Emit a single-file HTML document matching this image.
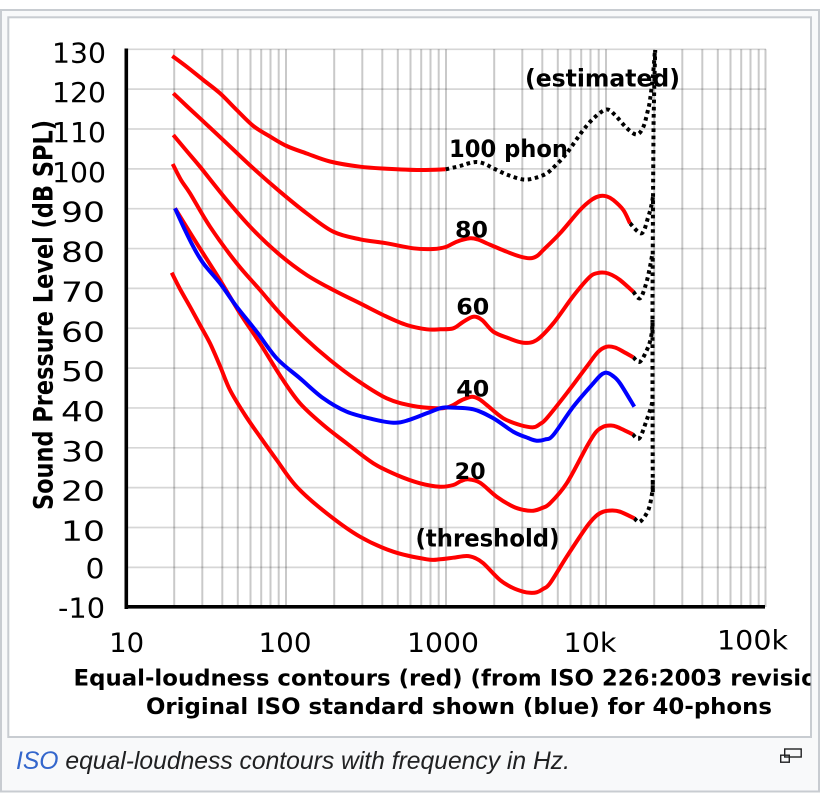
<!DOCTYPE html>
<html>
<head>
<meta charset="utf-8">
<style>
  html,body{margin:0;padding:0;background:#fff;}
  body{width:830px;height:802px;overflow:hidden;position:relative;}
  svg{position:absolute;left:0;top:0;}
  .tk{font-family:"DejaVu Sans","Liberation Sans",sans-serif;fill:#000;}
  .bd{font-family:"DejaVu Sans","Liberation Sans",sans-serif;font-weight:bold;fill:#000;}
</style>
</head>
<body>
<svg id="chart" width="830" height="802" viewBox="0 0 830 802" xmlns="http://www.w3.org/2000/svg">
  <defs>
    <clipPath id="inner"><rect x="9" y="18" width="801.5" height="718"/></clipPath>
  </defs>

  <!-- frame -->
  <rect x="1" y="10" width="818" height="781.5" fill="#f8f9fa" stroke="#c8ccd1" stroke-width="2"/>
  <rect x="8.3" y="17.3" width="802.7" height="719.7" fill="#ffffff" stroke="#c8ccd1" stroke-width="2"/>

  <!-- horizontal gridlines -->
  <g stroke="#000" stroke-opacity="0.16" stroke-width="1.7">
    <line x1="126" y1="49.3" x2="766" y2="49.3"/>
    <line x1="126" y1="89.15" x2="766" y2="89.15"/>
    <line x1="126" y1="129" x2="766" y2="129"/>
    <line x1="126" y1="168.85" x2="766" y2="168.85"/>
    <line x1="126" y1="208.7" x2="766" y2="208.7"/>
    <line x1="126" y1="248.55" x2="766" y2="248.55"/>
    <line x1="126" y1="288.4" x2="766" y2="288.4"/>
    <line x1="126" y1="328.25" x2="766" y2="328.25"/>
    <line x1="126" y1="368.1" x2="766" y2="368.1"/>
    <line x1="126" y1="407.95" x2="766" y2="407.95"/>
    <line x1="126" y1="447.8" x2="766" y2="447.8"/>
    <line x1="126" y1="487.65" x2="766" y2="487.65"/>
    <line x1="126" y1="527.5" x2="766" y2="527.5"/>
    <line x1="126" y1="567.35" x2="766" y2="567.35"/>
  </g>
  <!-- vertical gridlines -->
  <g stroke="#000" stroke-opacity="0.21" stroke-width="2">
    <line x1="174.2" y1="49.3" x2="174.2" y2="607"/>
    <line x1="202.3" y1="49.3" x2="202.3" y2="607"/>
    <line x1="222.3" y1="49.3" x2="222.3" y2="607"/>
    <line x1="237.8" y1="49.3" x2="237.8" y2="607"/>
    <line x1="250.5" y1="49.3" x2="250.5" y2="607"/>
    <line x1="261.2" y1="49.3" x2="261.2" y2="607"/>
    <line x1="270.5" y1="49.3" x2="270.5" y2="607"/>
    <line x1="278.7" y1="49.3" x2="278.7" y2="607"/>
    <line x1="286" y1="49.3" x2="286" y2="607"/>
    <line x1="334.2" y1="49.3" x2="334.2" y2="607"/>
    <line x1="362.3" y1="49.3" x2="362.3" y2="607"/>
    <line x1="382.3" y1="49.3" x2="382.3" y2="607"/>
    <line x1="397.8" y1="49.3" x2="397.8" y2="607"/>
    <line x1="410.5" y1="49.3" x2="410.5" y2="607"/>
    <line x1="421.2" y1="49.3" x2="421.2" y2="607"/>
    <line x1="430.5" y1="49.3" x2="430.5" y2="607"/>
    <line x1="438.7" y1="49.3" x2="438.7" y2="607"/>
    <line x1="446" y1="49.3" x2="446" y2="607"/>
    <line x1="494.2" y1="49.3" x2="494.2" y2="607"/>
    <line x1="522.3" y1="49.3" x2="522.3" y2="607"/>
    <line x1="542.3" y1="49.3" x2="542.3" y2="607"/>
    <line x1="557.8" y1="49.3" x2="557.8" y2="607"/>
    <line x1="570.5" y1="49.3" x2="570.5" y2="607"/>
    <line x1="581.2" y1="49.3" x2="581.2" y2="607"/>
    <line x1="590.5" y1="49.3" x2="590.5" y2="607"/>
    <line x1="598.7" y1="49.3" x2="598.7" y2="607"/>
    <line x1="606" y1="49.3" x2="606" y2="607"/>
    <line x1="654.2" y1="49.3" x2="654.2" y2="607"/>
    <line x1="682.3" y1="49.3" x2="682.3" y2="607"/>
    <line x1="702.3" y1="49.3" x2="702.3" y2="607"/>
    <line x1="717.8" y1="49.3" x2="717.8" y2="607"/>
    <line x1="730.5" y1="49.3" x2="730.5" y2="607"/>
    <line x1="741.2" y1="49.3" x2="741.2" y2="607"/>
    <line x1="750.5" y1="49.3" x2="750.5" y2="607"/>
    <line x1="758.7" y1="49.3" x2="758.7" y2="607"/>
    <line x1="765.5" y1="49.3" x2="765.5" y2="607"/>
  </g>

  <!-- red contours -->
  <g fill="none" stroke="#ff0000" stroke-width="4" stroke-linejoin="round" stroke-linecap="butt">
    <polyline class="s" points="172.3,56 186.7,66.7 203.3,80 220,93.3 236.7,110 253.3,126 270,136.5 286.7,146 306.7,153.5 330,161.5 360,166.7 386.7,168.7 420,170 445.7,169.3"/>
    <polyline class="s" points="173.3,93.3 186.7,106 200,118.3 226.7,143.3 253.3,168.3 280,191.7 306.7,213.3 333.3,231.7 360,239.3 386.7,243.3 413.3,248.3 433.3,249 445.7,247 456.7,241.7 470,238.3 478,239.5 486.7,243.3 506.7,251.7 520,256.5 530,258.3 537,256 543.3,250 560,233.3 580,210 592,199.5 600,196 607,196.5 613.3,200 623.3,210 630,223.3"/>
    <polyline class="s" points="173.3,135 186.7,151 200,166.7 226.7,200 253.3,230 280,255 306.7,275 333.3,290 360,303.3 386.7,316.7 406.7,325 426.7,329.3 440,329.3 453.3,328.3 463,322 473.3,316.7 482,320 493.3,331.7 508,338 523.3,342.7 536.7,340 553.3,323.3 573.3,296 590,276.7 598,273 605,272.7 612,275 620,280 633.3,291.7"/>
    <polyline class="s" points="172.7,164 181,180 190,193.3 210,226.7 236.7,263.3 260,290 280,313.3 303.3,336.7 330,360 356.7,380 386.7,398.3 413.3,406 436.7,408.3 447,407.5 453.3,405 462,400 471.7,396.7 479,399 486.7,405 503.3,418.3 520,425 533.3,427.3 540,424 546.7,418.3 566.7,393.3 586.7,366.7 598,352 606.7,346.7 615,347.5 623.3,351.7 633.3,357.3"/>
    <polyline class="s" points="175,208.3 196.7,243.3 220,280 240,313.3 260,343.3 281.7,378 300,403.3 323.3,425 346.7,443.3 373.3,463.3 396.7,475 420,483.3 440,486.7 453.3,485 461,481 468.3,479.3 480,482.7 496.7,496.7 513.3,506.7 524,510 533.3,510.7 542,508 550,503.3 566.7,483.3 586.7,446.7 596,432 603.3,426.7 610,425.5 616.7,426.7 632.7,434.3"/>
    <polyline class="s" points="171.7,272.7 180,289 190,306.7 200,325 210,343.3 220,366 230,390 245,415 260,436.7 276.7,460 296.7,486.7 326.7,513.3 360,536.7 393.3,551.7 426.7,559.3 440,559.3 453.3,557.7 466.7,556 475,558 483.3,563.3 500,580 512,587.5 523.3,591.7 530,592.8 536.7,592.3 543,589 550,583.3 566.7,556.7 586.7,526.7 596,516 603.3,511.7 612,510.5 620,511.7 634.3,518.3"/>
  </g>

  <!-- blue original 40 phon -->
  <g fill="none" stroke="#0000ff" stroke-width="4" stroke-linejoin="round">
    <polyline class="s" points="175,208.3 184,228 193.3,246.7 203.3,263.3 220,283.3 236.7,306.7 256.7,331.7 276.7,358.3 300,378.3 323.3,398.3 346.7,411.7 373.3,419.3 393.3,422.7 406.7,420.7 426.7,413.3 440,408.3 450,407.5 473.3,409.3 493.3,418.3 513.3,431.7 528,438 536.7,440.7 545,439.5 553.3,435 573.3,406.7 593.3,383.3 601,375 606.7,372.7 613,376 620,383.3 634.3,406.7"/>
  </g>

  <!-- dotted estimated extensions -->
  <g fill="none" stroke="#000" stroke-width="4" stroke-dasharray="3.6 3.6" stroke-linejoin="round">
    <polyline class="s" points="445.7,169.3 460,166 468,163.5 476.7,162 485,164 493.3,168.3 508,175 523.3,179.5 535,178 546.7,173.3 556,165 566.7,153.3 583.3,130 595,117 606.7,109.5 615,115 626.7,128 636.7,134.5 643.3,127 647.5,112 650,100 653,75 655,50"/>
    <polyline class="s" points="630,223.3 641.7,233.3 648.3,216.7 651.5,205 653,196.7"/>
    <polyline class="s" points="633.3,291.7 640,298.3 646,284 650,266.7 652.5,253"/>
    <polyline class="s" points="633.3,357.3 640,361.7 648.3,346.7 651.7,333.3 652.5,320"/>
    <polyline class="s" points="632.7,434.3 639.3,438.3 646.7,420 652,403.3 652.5,395"/>
    <polyline class="s" points="634.3,518.3 640,521.7 648.3,510 652.3,491.7 652.8,480"/>
    <polyline points="652.8,492 652.5,400 652.5,300 653,200 653.6,120 654.3,85 655.2,50"/>
  </g>

  <!-- axes -->
  <rect x="124.5" y="48.5" width="3.6" height="560.5" fill="#000"/>
  <rect x="124.5" y="605" width="640.5" height="3.6" fill="#000"/>

  <!-- y tick labels -->
  <g class="tk" font-size="28" text-anchor="end">
    <text x="106" y="62.3" textLength="54" lengthAdjust="spacingAndGlyphs">130</text>
    <text x="106" y="102.2" textLength="54" lengthAdjust="spacingAndGlyphs">120</text>
    <text x="106" y="142" textLength="54" lengthAdjust="spacingAndGlyphs">110</text>
    <text x="106" y="181.9" textLength="54" lengthAdjust="spacingAndGlyphs">100</text>
    <text x="105" y="221.7" textLength="44" lengthAdjust="spacingAndGlyphs">90</text>
    <text x="105" y="261.6" textLength="44" lengthAdjust="spacingAndGlyphs">80</text>
    <text x="105" y="301.4" textLength="44" lengthAdjust="spacingAndGlyphs">70</text>
    <text x="105" y="341.3" textLength="44" lengthAdjust="spacingAndGlyphs">60</text>
    <text x="105" y="381.1" textLength="44" lengthAdjust="spacingAndGlyphs">50</text>
    <text x="105" y="421" textLength="44" lengthAdjust="spacingAndGlyphs">40</text>
    <text x="105" y="460.8" textLength="44" lengthAdjust="spacingAndGlyphs">30</text>
    <text x="105" y="500.7" textLength="44" lengthAdjust="spacingAndGlyphs">20</text>
    <text x="105" y="540.5" textLength="44" lengthAdjust="spacingAndGlyphs">10</text>
    <text x="104.5" y="578" textLength="19" lengthAdjust="spacingAndGlyphs">0</text>
    <text x="105" y="617.5" textLength="47" lengthAdjust="spacingAndGlyphs">-10</text>
  </g>

  <!-- x tick labels -->
  <g class="tk" font-size="27" text-anchor="middle">
    <text x="126.7" y="652" textLength="35" lengthAdjust="spacingAndGlyphs">10</text>
    <text x="285" y="652" textLength="53" lengthAdjust="spacingAndGlyphs">100</text>
    <text x="443" y="652" textLength="72" lengthAdjust="spacingAndGlyphs">1000</text>
    <text x="590" y="652" textLength="53" lengthAdjust="spacingAndGlyphs">10k</text>
    <text x="752.5" y="649.5" textLength="71" lengthAdjust="spacingAndGlyphs">100k</text>
  </g>

  <!-- y axis title -->
  <text class="bd" font-size="27" text-anchor="middle" transform="translate(52.5,315) rotate(-90)" textLength="390" lengthAdjust="spacingAndGlyphs">Sound Pressure Level (dB SPL)</text>

  <!-- curve labels -->
  <g class="bd">
    <text x="449" y="157" font-size="24" textLength="119" lengthAdjust="spacingAndGlyphs">100 phon</text>
    <text x="525" y="86.5" font-size="24" textLength="155" lengthAdjust="spacingAndGlyphs">(estimated)</text>
    <text x="455" y="237.5" font-size="22" textLength="33" lengthAdjust="spacingAndGlyphs">80</text>
    <text x="456.3" y="314.5" font-size="22" textLength="33" lengthAdjust="spacingAndGlyphs">60</text>
    <text x="456.3" y="396.7" font-size="22" textLength="33" lengthAdjust="spacingAndGlyphs">40</text>
    <text x="454.7" y="479" font-size="22" textLength="31" lengthAdjust="spacingAndGlyphs">20</text>
    <text x="415.5" y="546.5" font-size="24" textLength="144" lengthAdjust="spacingAndGlyphs">(threshold)</text>
  </g>

  <!-- x axis title -->
  <g class="bd" font-size="22" clip-path="url(#inner)">
    <text x="73.5" y="685.5" textLength="770" lengthAdjust="spacingAndGlyphs">Equal-loudness contours (red) (from ISO 226:2003 revision)</text>
    <text x="146" y="714" textLength="626" lengthAdjust="spacingAndGlyphs">Original ISO standard shown (blue) for 40-phons</text>
  </g>

  <!-- caption -->
  <text x="16" y="769" font-family="'Liberation Sans', Arial, sans-serif" font-style="italic" font-size="25" fill="#202122" textLength="554" lengthAdjust="spacingAndGlyphs"><tspan fill="#3366cc">ISO</tspan> equal-loudness contours with frequency in Hz.</text>

  <!-- enlarge icon -->
  <g fill="none" stroke="#202122" stroke-width="1.4">
    <rect x="780.7" y="755.2" width="8.6" height="7"/>
    <rect x="784.7" y="749" width="16.5" height="8"/>
  </g>
</svg>
<script>
(function(){
  var NS='http://www.w3.org/2000/svg';
  var pls=document.querySelectorAll('polyline.s');
  for(var k=0;k<pls.length;k++){
    var pl=pls[k];
    var raw=pl.getAttribute('points').trim().split(/\s+/);
    var p=[];
    for(var i=0;i<raw.length;i++){var c=raw[i].split(',');p.push([parseFloat(c[0]),parseFloat(c[1])]);}
    var d='M'+p[0][0]+','+p[0][1];
    for(var i=0;i<p.length-1;i++){
      var p0=p[i-1]||p[i],p1=p[i],p2=p[i+1],p3=p[i+2]||p[i+1];
      var c1x=p1[0]+(p2[0]-p0[0])/6,c1y=p1[1]+(p2[1]-p0[1])/6;
      var c2x=p2[0]-(p3[0]-p1[0])/6,c2y=p2[1]-(p3[1]-p1[1])/6;
      d+=' C'+c1x.toFixed(2)+','+c1y.toFixed(2)+' '+c2x.toFixed(2)+','+c2y.toFixed(2)+' '+p2[0]+','+p2[1];
    }
    var path=document.createElementNS(NS,'path');
    path.setAttribute('d',d);
    pl.parentNode.replaceChild(path,pl);
  }
})();
</script>
</body>
</html>
